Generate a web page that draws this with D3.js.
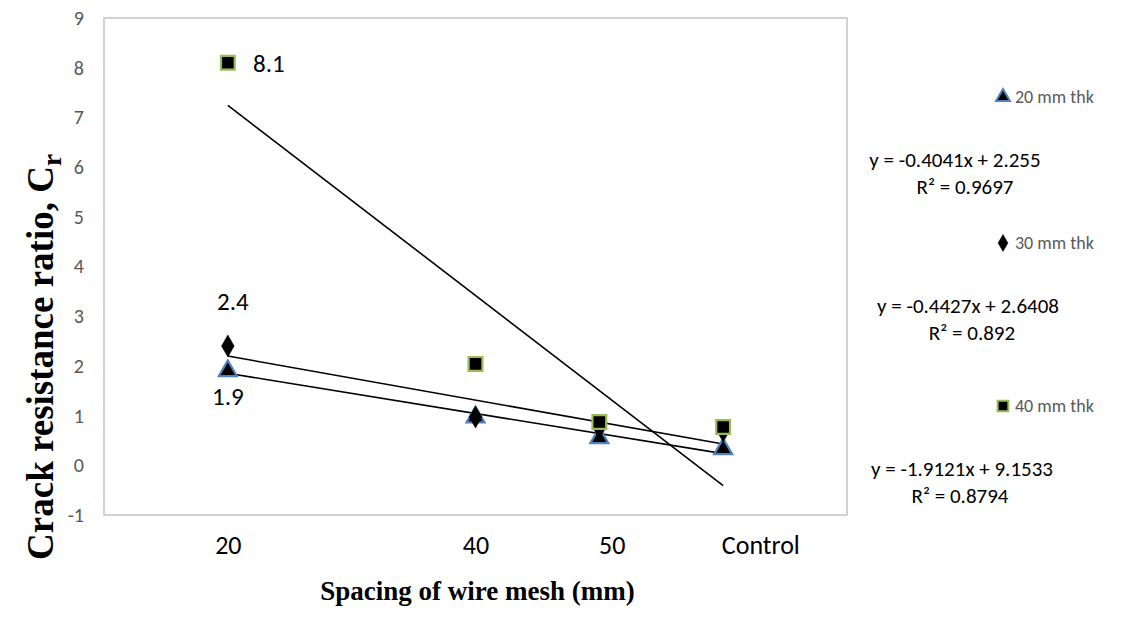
<!DOCTYPE html>
<html>
<head>
<meta charset="utf-8">
<script src="https://cdn.jsdelivr.net/npm/d3@7"></script>
<style>
  html, body { margin: 0; padding: 0; background: #fff; }
  svg { display: block; }
</style>
</head>
<body>
<div id="chart"></div>
<script>
// x positions used by the fitted trendlines (20, 40, 50, Control)
const xPositions = [1, 3, 4, 5]
const xTickLabels = ['20', '40', '50', 'Control']
const xTickPositions = [1, 3, 4.1, 5.3]
const yTicks = [-1, 0, 1, 2, 3, 4, 5, 6, 7, 8, 9]

const thk20 = [1.9, 0.97, 0.55, 0.33]
const thk30 = [2.4, 0.97, 0.75, 0.69]
const thk40 = [8.1, 2.04, 0.87, 0.77]

const seriesNames = ['20 mm thk', '30 mm thk', '40 mm thk']
const slopes = [-0.4041, -0.4427, -1.9121]
const intercepts = [2.255, 2.6408, 9.1533]
const equations = ['y = -0.4041x + 2.255', 'y = -0.4427x + 2.6408', 'y = -1.9121x + 9.1533']
const rSquared = ['R² = 0.9697', 'R² = 0.892', 'R² = 0.8794']

// label shown next to the first point of each series
const pointLabels = ['1.9', '2.4', '8.1']

const width = 1134, height = 618
const plot = { left: 104, right: 847, top: 18, bottom: 515 }

const svg = d3.select('#chart').append('svg')
  .attr('width', width).attr('height', height)

const x = d3.scaleLinear().domain([0, 6]).range([plot.left, plot.right])
const y = d3.scaleLinear().domain([-1, 9]).range([plot.bottom, plot.top])

const labelFont = 'Carlito, Calibri, "Open Sans", sans-serif'

// plot border
svg.append('rect')
  .attr('x', plot.left).attr('y', plot.top)
  .attr('width', plot.right - plot.left).attr('height', plot.bottom - plot.top)
  .attr('fill', 'none').attr('stroke', '#c4c4c4').attr('stroke-width', 1.5)

// y axis labels
const yAxis = svg.append('g').attr('transform', `translate(${plot.left},0)`)
  .call(d3.axisLeft(y).tickValues(yTicks).tickSize(0).tickPadding(20).tickFormat(d => String(d)))
yAxis.select('.domain').remove()
yAxis.selectAll('text').attr('fill', '#595959')
  .style('font-family', labelFont).style('font-size', '20px')

// x axis labels
const xAxis = svg.append('g').attr('transform', `translate(0,${plot.bottom})`)
  .call(d3.axisBottom(x).tickValues(xTickPositions).tickSize(0).tickPadding(21)
    .tickFormat((d, i) => xTickLabels[i]))
xAxis.select('.domain').remove()
xAxis.selectAll('text').attr('fill', '#000')
  .style('font-family', labelFont).style('font-size', '26px')

// axis titles
svg.append('text')
  .attr('x', (plot.left + plot.right) / 2 + 2).attr('y', 600)
  .attr('text-anchor', 'middle')
  .style('font-family', '"Liberation Serif", "Times New Roman", serif')
  .style('font-size', '27px').style('font-weight', 'bold')
  .text('Spacing of wire mesh (mm)')

const yTitle = svg.append('text')
  .attr('transform', `translate(53,357) rotate(-90)`)
  .attr('text-anchor', 'middle')
  .style('font-family', '"Liberation Serif", "Times New Roman", serif')
  .style('font-size', '37px').style('font-weight', 'bold')
yTitle.append('tspan').text('Crack resistance ratio, C')
yTitle.append('tspan').attr('dy', 8).style('font-size', '27px').text('r')

// trendlines
const seriesData = [thk20, thk30, thk40]
seriesData.forEach((vals, i) => {
  const x0 = xPositions[0], x1 = xPositions[xPositions.length - 1]
  svg.append('line')
    .attr('x1', x(x0)).attr('y1', y(slopes[i] * x0 + intercepts[i]))
    .attr('x2', x(x1)).attr('y2', y(slopes[i] * x1 + intercepts[i]))
    .attr('stroke', '#000').attr('stroke-width', 1.6)
})

// markers
const markerStyle = [
  { type: d3.symbolTriangle, size: 140, stroke: '#4f81bd' },
  { type: d3.symbolDiamond, size: 140, stroke: '#000' },
  { type: d3.symbolSquare, size: 190, stroke: '#9bbb59' }
]
const symbolPath = (i, k = 1) => d3.symbol().type(markerStyle[i].type).size(markerStyle[i].size * k)()

seriesData.forEach((vals, i) => {
  svg.append('g').selectAll('path')
    .data(vals)
    .join('path')
    .attr('d', symbolPath(i))
    .attr('transform', (d, j) => `translate(${x(xPositions[j])},${y(d)})`)
    .attr('fill', '#000')
    .attr('stroke', markerStyle[i].stroke)
    .attr('stroke-width', i === 1 ? 0.5 : 2.2)
})

// data labels on first point
const labelOffsets = [[0, 34], [5, -36], [41, 9]]
pointLabels.forEach((t, i) => {
  svg.append('text')
    .attr('x', x(xPositions[0]) + labelOffsets[i][0])
    .attr('y', y(seriesData[i][0]) + labelOffsets[i][1])
    .attr('text-anchor', 'middle')
    .style('font-family', labelFont).style('font-size', '25px')
    .text(t)
})

// legend with equations
const legendY = [103, 249, 412]
const eqX = [955, 968, 962]
const r2X = [965, 972, 960]
seriesNames.forEach((s, i) => {
  const g = svg.append('g').attr('transform', `translate(996,${legendY[i]})`)
  g.append('path').attr('d', symbolPath(i, 0.6))
    .attr('transform', 'translate(7,-6)')
    .attr('fill', '#000').attr('stroke', markerStyle[i].stroke)
    .attr('stroke-width', i === 1 ? 0.5 : 2)
  g.append('text').attr('x', 19).attr('y', 0)
    .attr('fill', '#595959')
    .style('font-family', labelFont).style('font-size', '18px')
    .text(s)

  svg.append('text').attr('x', eqX[i]).attr('y', legendY[i] + 64)
    .attr('text-anchor', 'middle')
    .style('font-family', labelFont).style('font-size', '21px')
    .text(equations[i])
  svg.append('text').attr('x', r2X[i]).attr('y', legendY[i] + 91)
    .attr('text-anchor', 'middle')
    .style('font-family', labelFont).style('font-size', '21px')
    .text(rSquared[i])
})
</script>
</body>
</html>
